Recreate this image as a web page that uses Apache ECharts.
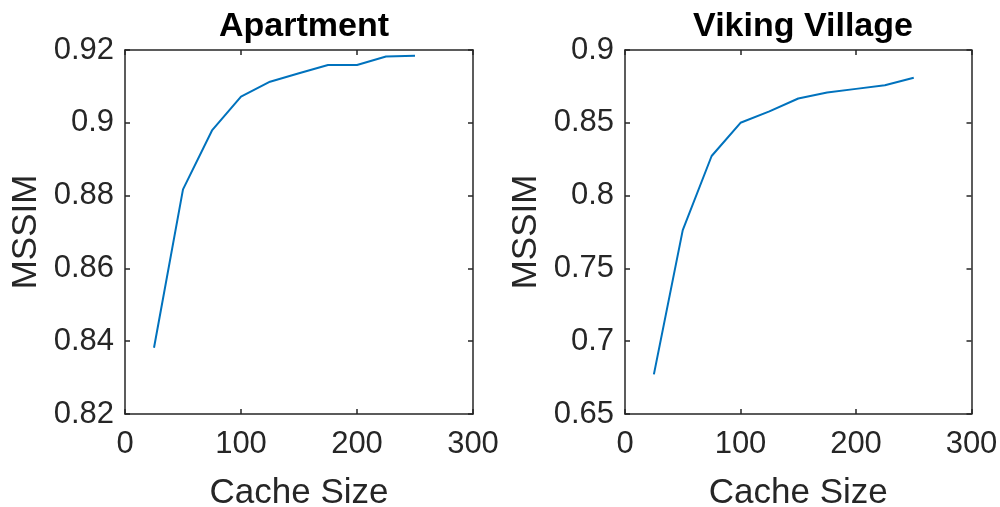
<!DOCTYPE html>
<html>
<head>
<meta charset="utf-8">
<script src="https://cdn.jsdelivr.net/npm/echarts@6/dist/echarts.min.js"></script>
<style>
html,body{margin:0;padding:0;background:#fff;}
#c{width:1000px;height:507px;}
</style>
</head>
<body>
<div id="c"></div>
<script>
const cacheSizes = [25, 50, 75, 100, 125, 150, 175, 200, 225, 250];
const apartment = [0.8382, 0.8817, 0.8979, 0.9072, 0.9113, 0.9136, 0.9159, 0.9159, 0.9182, 0.9184];
const vikingVillage = [0.6772, 0.7763, 0.8272, 0.8500, 0.8578, 0.8667, 0.8708, 0.8733, 0.8758, 0.8810];
const titles = ["Apartment", "Viking Village"];
const xTicks = [0, 100, 200, 300];
const leftYTicks = [0.82, 0.84, 0.86, 0.88, 0.90, 0.92];
const rightYTicks = [0.65, 0.70, 0.75, 0.80, 0.85, 0.90];

const FONT = '"Liberation Sans", Arial, Helvetica, sans-serif';
const AX = '#262626';
const chart = echarts.init(document.getElementById('c'), null, {renderer: 'canvas'});

function fmt(v){ return String(+(+v).toFixed(4)); }

const grids = [
  {left: 125, right: 527, top: 50, bottom: 93, containLabel: false, outerBoundsMode: 'none'},
  {left: 625, right: 28.5, top: 50, bottom: 93, containLabel: false, outerBoundsMode: 'none'}
];
const yTicksList = [leftYTicks, rightYTicks];

const xAxes = [], yAxes = [];
grids.forEach((g, i) => {
  const xmin = xTicks[0], xmax = xTicks[xTicks.length-1], xint = xTicks[1]-xTicks[0];
  const yt = yTicksList[i];
  const ymin = yt[0], ymax = yt[yt.length-1], yint = +(yt[1]-yt[0]).toFixed(4);
  const line = {show: true, onZero: false, lineStyle: {color: AX, width: 1.5}};
  const tick = {show: true, inside: true, length: 5, lineStyle: {color: AX, width: 1.5}};
  xAxes.push({
    gridIndex: i, type: 'value', position: 'bottom', min: xmin, max: xmax, interval: xint,
    axisLine: line, axisTick: tick, splitLine: {show: false},
    axisLabel: {color: AX, fontSize: 31, fontFamily: FONT, margin: 15, formatter: fmt},
    name: 'Cache Size', nameLocation: 'middle', nameGap: 62,
    nameTextStyle: {color: AX, fontSize: 35, fontFamily: FONT}
  });
  xAxes.push({
    gridIndex: i, type: 'value', position: 'top', min: xmin, max: xmax, interval: xint,
    axisLine: line, axisTick: tick, splitLine: {show: false}, axisLabel: {show: false}
  });
  yAxes.push({
    gridIndex: i, type: 'value', position: 'left', min: ymin, max: ymax, interval: yint,
    axisLine: line, axisTick: tick, splitLine: {show: false},
    axisLabel: {color: AX, fontSize: 31, fontFamily: FONT, margin: 11, formatter: fmt},
    name: 'MSSIM', nameLocation: 'middle', nameGap: 81, nameRotate: 90,
    nameTextStyle: {color: AX, fontSize: 35, fontFamily: FONT}
  });
  yAxes.push({
    gridIndex: i, type: 'value', position: 'right', min: ymin, max: ymax, interval: yint,
    axisLine: line, axisTick: tick, splitLine: {show: false}, axisLabel: {show: false}
  });
});

const seriesData = [apartment, vikingVillage];
const series = seriesData.map((vals, i) => ({
  type: 'line',
  xAxisIndex: i*2, yAxisIndex: i*2,
  data: cacheSizes.map((x, k) => [x, vals[k]]),
  showSymbol: false, symbol: 'none',
  lineStyle: {color: '#0072BD', width: 2},
  animation: false
}));

chart.setOption({
  animation: false,
  backgroundColor: '#fff',
  title: titles.map((t, i) => ({
    text: t,
    left: i === 0 ? 299 : 798,
    top: 5,
    textAlign: 'center',
    textStyle: {color: '#000', fontSize: 34, fontWeight: 'bold', fontFamily: FONT}
  })),
  grid: grids,
  xAxis: xAxes,
  yAxis: yAxes,
  series: series
});
</script>
</body>
</html>
